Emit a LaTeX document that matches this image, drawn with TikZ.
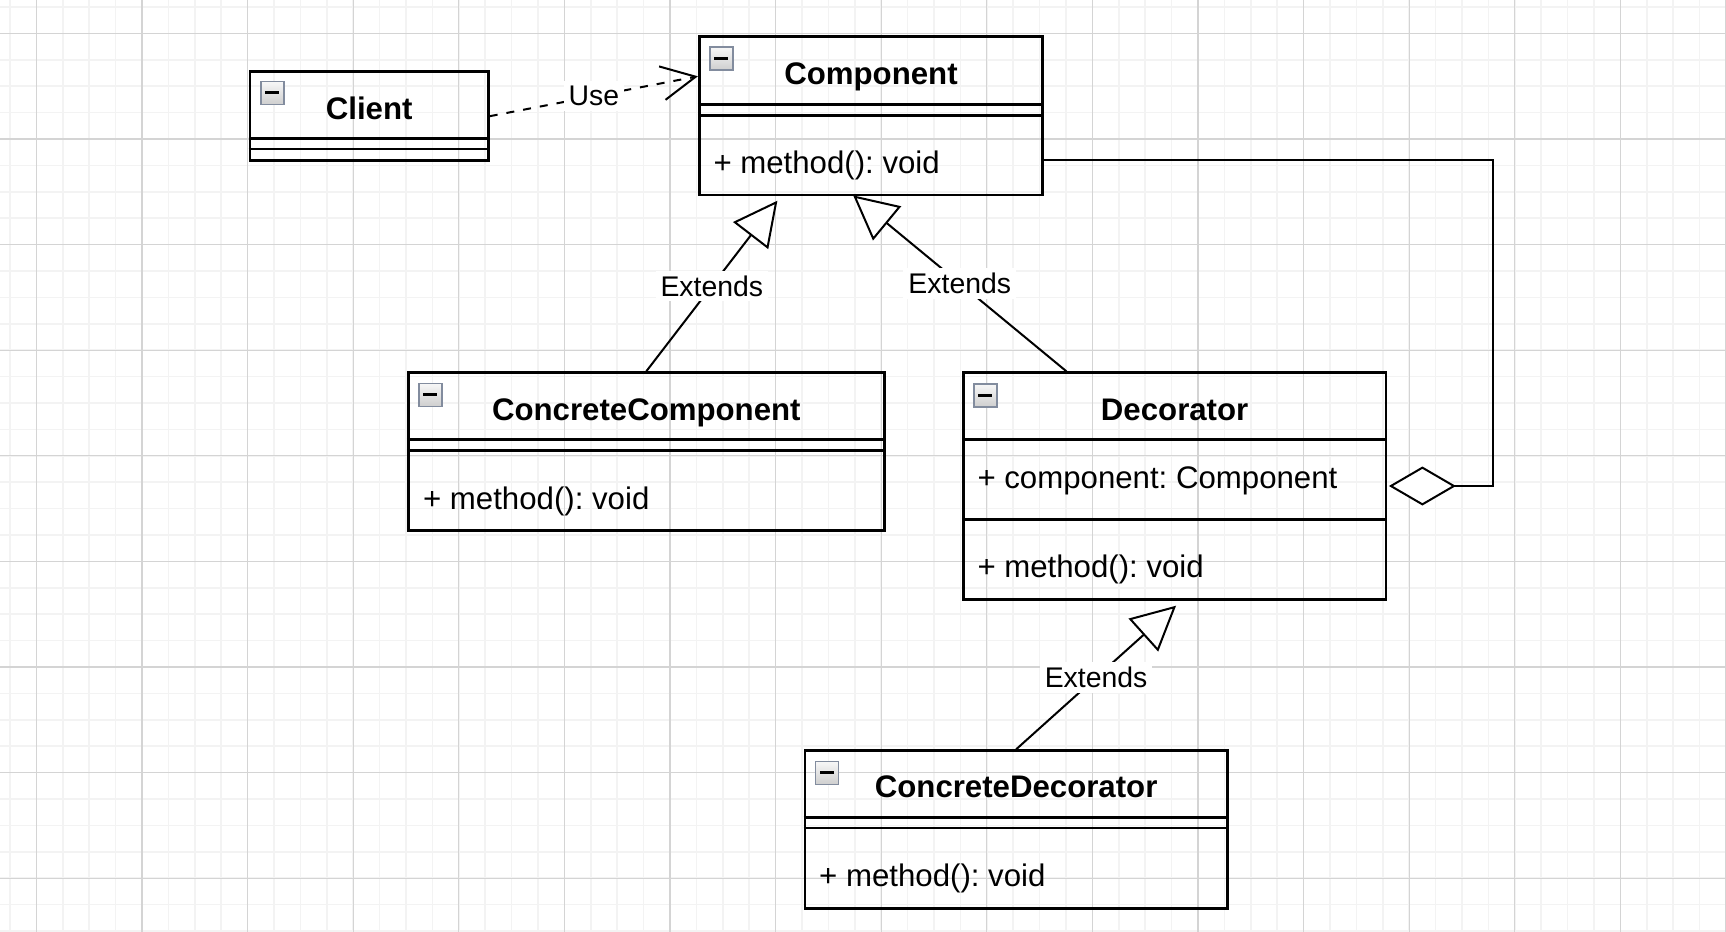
\documentclass[tikz,border=0pt]{standalone}
\usepackage{fontspec}
\setmainfont{Liberation Sans}
\usetikzlibrary{arrows.meta,calc}
\definecolor{iconborder}{RGB}{130,140,158}
\definecolor{gridminor}{RGB}{243,243,243}
\definecolor{gridmajor}{RGB}{212,212,212}
\tikzset{
  classbox/.style={draw, line width=1.4pt, rectangle, inner sep=0pt},
  divider/.style={line width=1.4pt},
  classtitle/.style={font=\fontsize{15.6}{18}\selectfont\bfseries, inner sep=0pt, anchor=base},
  member/.style={font=\fontsize{15.6}{18}\selectfont, inner sep=0pt, anchor=base west},
  lbl/.style={font=\fontsize{14.2}{17}\selectfont, fill=white, inner sep=2.5pt},
  conn/.style={line width=1pt},
  usedash/.style={dash pattern=on 4pt off 4.5pt},
  extendtip/.style={-{Triangle[fill=white, length=22pt, width=22pt]}},
  usetip/.style={-{Straight Barb[length=17pt, width=17pt]}},
  aggtip/.style={-{Diamond[fill=white, length=33.5pt, width=19.5pt]}},
  minorgrid/.style={gridminor, line width=0.8pt},
  majorgrid/.style={gridmajor, line width=0.6pt},
  minusicon/.pic={
    \draw[iconborder, line width=0.8pt, top color=gray!6, bottom color=gray!38] (0,0) rectangle (23,23);
    \draw[line width=1.5pt] (4.5,11.5) -- (18.5,11.5);
  }
}
\frenchspacing
\begin{document}
\frenchspacing
\begin{tikzpicture}[x=0.5pt, y=-0.5pt]
\useasboundingbox (0,0) rectangle (1726,932);
\fill[white] (0,0) rectangle (1726,932);
% grid
\foreach \i in {0,...,65} { \draw[minorgrid] ({9.9+26.4*\i},0) -- ++(0,932); }
\foreach \i in {0,...,35} { \draw[minorgrid] (0,{6.9+26.4*\i}) -- ++(1726,0); }
\foreach \i in {0,...,16} { \draw[majorgrid] ({36.3+105.6*\i},0) -- ++(0,932); }
\foreach \i in {0,...,8} { \draw[majorgrid] (0,{33.3+105.6*\i}) -- ++(1726,0); }

% Client
\node[classbox, minimum width=119.15pt, minimum height=44.5pt] (client) at (369.15,116.2) {};
\draw[divider] ($(client.north west)+(0,68.3)$) -- ($(client.north east)+(0,68.3)$);
\draw[divider] ($(client.north west)+(0,78.6)$) -- ($(client.north east)+(0,78.6)$);
\pic at ($(client.north west)+(12.3,11)$) {minusicon};
\node[classtitle] (clientT) at ($(client.north)+(0,48.8)$) {Client};

% Component
\node[classbox, minimum width=171.7pt, minimum height=79.15pt] (comp) at (871,115.85) {};
\draw[divider] ($(comp.north west)+(0,69.3)$) -- ($(comp.north east)+(0,69.3)$);
\draw[divider] ($(comp.north west)+(0,80)$) -- ($(comp.north east)+(0,80)$);
\pic at ($(comp.north west)+(12,11.6)$) {minusicon};
\node[classtitle] (compT) at ($(comp.north)+(0,49.6)$) {Component};
\node[member] (compM) at ($(comp.north west)+(15.2,138)$) {+ method(): void};

% ConcreteComponent
\node[classbox, minimum width=238pt, minimum height=79pt] (cc) at (646.3,451.7) {};
\draw[divider] ($(cc.north west)+(0,68)$) -- ($(cc.north east)+(0,68)$);
\draw[divider] ($(cc.north west)+(0,79)$) -- ($(cc.north east)+(0,79)$);
\pic at ($(cc.north west)+(12,12)$) {minusicon};
\node[classtitle] (ccT) at ($(cc.north)+(0,49.3)$) {ConcreteComponent};
\node[member] (ccM) at ($(cc.north west)+(15.8,138)$) {+ method(): void};

% Decorator
\node[classbox, minimum width=211.35pt, minimum height=113.3pt] (dec) at (1174.65,486) {};
\draw[divider] ($(dec.north west)+(0,68.3)$) -- ($(dec.north east)+(0,68.3)$);
\draw[divider] ($(dec.north west)+(0,148)$) -- ($(dec.north east)+(0,148)$);
\pic at ($(dec.north west)+(12,12.5)$) {minusicon};
\node[classtitle] (decT) at ($(dec.north)+(0,49.6)$) {Decorator};
\node[member] (decA) at ($(dec.north west)+(15.2,117.6)$) {+ component: Component};
\node[member] (decM) at ($(dec.north west)+(15.2,206)$) {+ method(): void};

% ConcreteDecorator
\node[classbox, minimum width=211.15pt, minimum height=78.8pt] (cd) at (1016.15,829.5) {};
\draw[divider] ($(cd.north west)+(0,68)$) -- ($(cd.north east)+(0,68)$);
\draw[divider] ($(cd.north west)+(0,78.6)$) -- ($(cd.north east)+(0,78.6)$);
\pic at ($(cd.north west)+(12,12)$) {minusicon};
\node[classtitle] (cdT) at ($(cd.north)+(0,48.5)$) {ConcreteDecorator};
\node[member] (cdM) at ($(cd.north west)+(15.2,137.5)$) {+ method(): void};

% Use dependency
\draw[conn, usedash, usetip] (client.east) -- node[lbl] {Use} ($(comp.north west)+(0,41)$);

% Extends
\draw[conn, extendtip] (cc.north) -- node[lbl] {Extends} ($(comp.south west)+(79.5,4.3)$);
\draw[conn, extendtip] ($(dec.north west)+(104.5,0)$) -- node[lbl] {Extends} ($(comp.south west)+(155.3,-1)$);
\draw[conn, extendtip] (cd.north) -- node[lbl] {Extends} ($(dec.south)+(1.4,5)$);

% Aggregation
\draw[conn, aggtip] ($(comp.north east)+(0,125)$) -| ($(dec.east)+(105.7,0)$) -- ($(dec.east)+(1.5,0)$);
\end{tikzpicture}
\end{document}
